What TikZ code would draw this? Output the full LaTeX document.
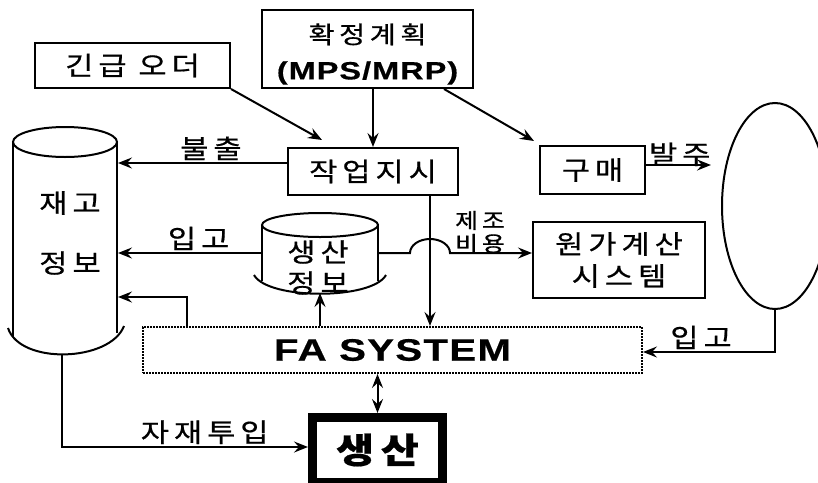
\documentclass[tikz,border=0pt]{standalone}
\usepackage{fontspec}
\setmainfont{Noto Sans CJK KR}[LetterSpace=19, FakeStretch=1.18, FakeBold=0.6]
\newfontfamily\latinfont{Liberation Sans}[LetterSpace=4, FakeStretch=1.3, FakeBold=0.5]
\usetikzlibrary{arrows.meta,shapes.geometric,calc}
\tikzset{
    block/.style = {draw, rectangle, line width=2pt, align=center, inner sep=0pt},
    lbl/.style = {font=\fontsize{26}{30}\selectfont, inner sep=1pt},
    small/.style = {font=\fontsize{21}{23}\selectfont, align=center, inner sep=1pt},
    fabox/.style = {draw, densely dotted, line width=2pt, inner sep=0pt,
        font=\latinfont\bfseries\fontsize{31}{34}\selectfont}
}

\begin{document}
\begin{tikzpicture}[x=1pt, y=-1pt, line width=2pt, >={Stealth[length=14pt,width=11pt,inset=5pt]}]
    \useasboundingbox (0,0) rectangle (818,482);
    \node [block, lbl, minimum width=195pt, minimum height=45pt] (urgent) at (132.5,65.5) {긴급 오더};
    \node [block, minimum width=211pt, minimum height=78pt, font=\fontsize{24}{39}\selectfont] (plan) at (367.5,49) {\rule{0pt}{30pt}확정계획\\[-3pt]{\latinfont\bfseries\fontsize{25}{39}\selectfont (MPS/MRP)}};
    \node [block, lbl, minimum width=170pt, minimum height=47pt] (order) at (373,171.5) {작업지시};
    \node [block, lbl, minimum width=105pt, minimum height=48pt] (buy) at (592.5,170) {구매};
    \node [block, minimum width=172pt, minimum height=76pt, font=\fontsize{26}{32}\selectfont] (cost) at (619,260) {원가계산\\시스템};
    \node [fabox, minimum width=499pt, minimum height=46pt] (fa) at (392.5,350) {FA SYSTEM};
    \node [block, line width=9pt, minimum width=130pt, minimum height=65pt, font=\bfseries\fontsize{35}{40}\selectfont] (prod) at (377.5,450) {생산};
    \node [draw, ellipse, minimum width=106pt, minimum height=206pt, inner sep=0pt] (vendor) at (775,206) {};

    % stock drum
    \draw (65,142) ellipse [x radius=52pt, y radius=15pt];
    \draw (13,142) -- (13,337) (117,142) -- (117,333);
    \draw (8,328) .. controls (20,365) and (110,362) .. (124,326);
    \node [lbl] (stocka) at (70,203) {재고};
    \node [lbl] (stockb) at (70,263) {정보};
    \coordinate (stock) at (118,240);
    \coordinate (stockbot) at (62,355);

    % production data drum
    \draw (320,225) ellipse [x radius=58pt, y radius=12pt];
    \draw (262,225) -- (262,281) (378,225) -- (378,281);
    \draw (254,275) .. controls (268,300) and (372,300) .. (386,275);
    \node [lbl] (infoa) at (318,252) {생산};
    \node [lbl] (infob) at (318,283) {정보};
    \coordinate (infow) at (262,253);
    \coordinate (infoe) at (378,253);
    \coordinate (infos) at (320,293);

    \draw [->] (urgent.south east) -- ([xshift=-51pt,yshift=7pt]order.north);
    \draw [->] (plan.south -| order.north) -- (order.north);
    \draw [->] ([xshift=-30pt]plan.south east) -- ([xshift=-5pt,yshift=4pt]buy.north west);
    \draw [->] ([yshift=8.5pt]order.west) -- ([yshift=8.5pt]order.west -| stock) node [lbl, above=1pt, pos=0.45] {불출};
    \draw [->, shorten >=10pt] ([yshift=5pt]buy.east) -- ([yshift=5pt]buy.east -| vendor.west) node [lbl, above=-3pt, pos=0.45] {발주};
    \draw [->] (infow) -- (infow -| stock) node [lbl, above=1pt, pos=0.44] {입고};
    \coordinate (hop) at ([xshift=57pt]order.south |- infoe);
    \draw [->] (infoe) -- ([xshift=-20pt]hop) arc [start angle=180, end angle=0, x radius=20pt, y radius=14pt] -- (infoe -| cost.west);
    \node [small] (costlbl) at (480,232) {제조\\비용};
    \draw [->] ([xshift=57pt]order.south) -- ([xshift=57pt]order.south |- fa.north);
    \draw [->] (infos |- fa.north) -- (infos);
    \draw [->] ([xshift=45pt]fa.north west) |- ([yshift=-57pt]stock);
    \draw [->] (vendor.south) |- ([yshift=-2pt]fa.east) node [lbl, above=1pt, pos=0.78] {입고};
    \draw [->] (stockbot) |- ([yshift=3pt]prod.west) node [lbl, above=1pt, pos=0.79] {자재투입};
    \draw [<->] (prod.north) -- (prod.north |- fa.south);
\end{tikzpicture}
\end{document}
